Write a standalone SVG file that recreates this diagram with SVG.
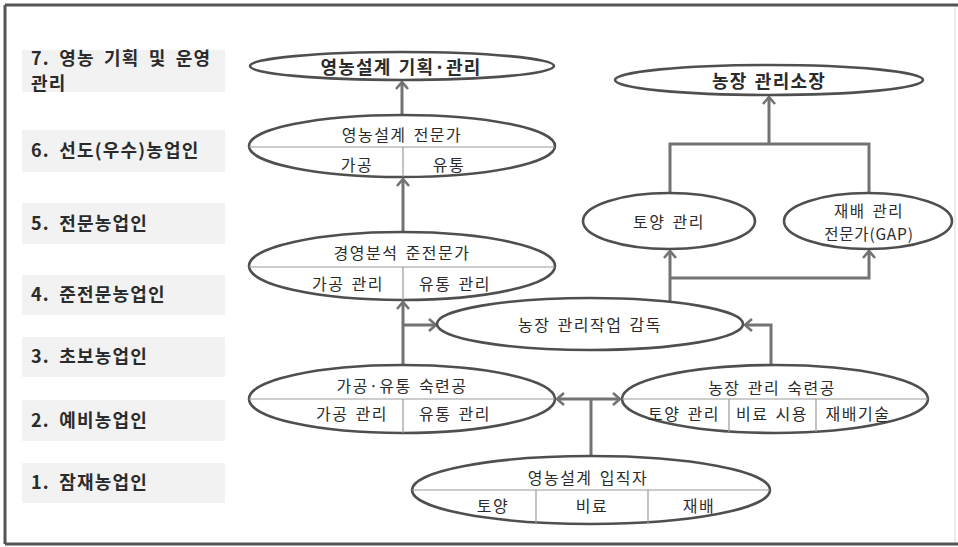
<svg xmlns="http://www.w3.org/2000/svg" width="958" height="547" viewBox="0 0 958 547">
<style>
text{font-family:"Noto Sans CJK KR","Noto Sans",sans-serif;fill:#2b2b2b;}
.lbl{font-size:18px;font-weight:bold;letter-spacing:1.2px;word-spacing:4px;}
.lbox{fill:#f2f2f2;}
.el{fill:#fff;stroke:#4f4f4f;stroke-width:2.6;}
.div{stroke:#9a9a9a;stroke-width:1.2;fill:none;}
.t{font-size:16px;text-anchor:middle;dominant-baseline:central;letter-spacing:1.5px;word-spacing:2px;}
.tb{font-size:18px;font-weight:bold;text-anchor:middle;dominant-baseline:central;letter-spacing:1.2px;word-spacing:2px;}
.c{stroke:#737373;stroke-width:3;fill:none;}
</style>
<defs>
<marker id="ah" markerUnits="userSpaceOnUse" markerWidth="20" markerHeight="20" refX="0" refY="0" viewBox="-10 -10 20 20" orient="auto-start-reverse">
<path d="M-7,-6 L0,0 L-7,6" fill="none" stroke="#737373" stroke-width="2.6" stroke-linejoin="miter"/>
</marker>
</defs>
<rect x="0" y="0" width="958" height="547" fill="#fff"/>
<g id="frame">
<line x1="5" y1="5" x2="958" y2="5" stroke="#555" stroke-width="3"/>
<line x1="5" y1="5" x2="5" y2="544" stroke="#555" stroke-width="3"/>
<line x1="5" y1="544" x2="958" y2="544" stroke="#555" stroke-width="3"/>
<line x1="955" y1="7" x2="955" y2="542" stroke="#d8d8d8" stroke-width="1"/>
</g>
<g id="level7"><rect class="lbox" x="22" y="50" width="203" height="42"/><text class="lbl" x="31" y="65">7. 영농 기획 및 운영</text><text class="lbl" x="31" y="90">관리</text></g>
<g id="level6"><rect class="lbox" x="22" y="130" width="203" height="42"/><text class="lbl" x="31" y="157">6. 선도(우수)농업인</text></g>
<g id="level5"><rect class="lbox" x="22" y="203" width="203" height="41"/><text class="lbl" x="31" y="230">5. 전문농업인</text></g>
<g id="level4"><rect class="lbox" x="22" y="275" width="203" height="40"/><text class="lbl" x="31" y="301">4. 준전문농업인</text></g>
<g id="level3"><rect class="lbox" x="22" y="337" width="203" height="40"/><text class="lbl" x="31" y="363">3. 초보농업인</text></g>
<g id="level2"><rect class="lbox" x="22" y="400" width="203" height="41"/><text class="lbl" x="31" y="427">2. 예비농업인</text></g>
<g id="level1"><rect class="lbox" x="22" y="463" width="203" height="40"/><text class="lbl" x="31" y="489">1. 잠재농업인</text></g>
<g id="connectors">
<line class="c" x1="402" y1="114" x2="402" y2="82" marker-end="url(#ah)"/>
<line class="c" x1="403" y1="231" x2="403" y2="179" marker-end="url(#ah)"/>
<line class="c" x1="403" y1="364" x2="403" y2="302" marker-end="url(#ah)"/>
<line class="c" x1="403" y1="325" x2="436" y2="325" marker-end="url(#ah)"/>
<polyline class="c" points="771,364 771,325 745,325" marker-end="url(#ah)"/>
<line class="c" x1="670" y1="302" x2="670" y2="251" marker-end="url(#ah)"/>
<polyline class="c" points="670,278 869,278 869,251" marker-end="url(#ah)"/>
<polyline class="c" points="670,193 670,144 869,144 869,193"/>
<line class="c" x1="769" y1="144" x2="769" y2="97" marker-end="url(#ah)"/>
<line class="c" x1="557" y1="399" x2="620" y2="399" marker-start="url(#ah)" marker-end="url(#ah)"/>
<line class="c" x1="591" y1="399" x2="591" y2="457"/>
</g>
<g id="n-plan">
<ellipse class="el" cx="402" cy="66" rx="152" ry="14"/>
<text class="tb" x="401" y="66">영농설계 기획·관리</text>
</g>
<g id="n-expert">
<ellipse class="el" cx="402" cy="146" rx="153" ry="31"/>
<line class="div" x1="249" y1="147" x2="555" y2="147"/>
<line class="div" x1="403" y1="147" x2="403" y2="177"/>
<text class="t" x="402" y="134">영농설계 전문가</text>
<text class="t" x="357" y="164">가공</text>
<text class="t" x="449" y="164">유통</text>
</g>
<g id="n-semi">
<ellipse class="el" cx="402" cy="266" rx="153" ry="34"/>
<line class="div" x1="249" y1="267" x2="555" y2="267"/>
<line class="div" x1="403" y1="267" x2="403" y2="300"/>
<text class="t" x="402" y="252">경영분석 준전문가</text>
<text class="t" x="348" y="283">가공 관리</text>
<text class="t" x="455" y="283">유통 관리</text>
</g>
<g id="n-supervise">
<ellipse class="el" cx="590" cy="324" rx="153" ry="26"/>
<text class="t" x="590" y="324">농장 관리작업 감독</text>
</g>
<g id="n-soil">
<ellipse class="el" cx="669" cy="221" rx="86" ry="28"/>
<text class="t" x="669" y="221">토양 관리</text>
</g>
<g id="n-gap">
<ellipse class="el" cx="868" cy="221" rx="84" ry="28"/>
<text class="t" x="869" y="210" style="font-size:15.5px">재배 관리</text>
<text class="t" x="869" y="233" style="font-size:15.5px;letter-spacing:0.8px">전문가(GAP)</text>
</g>
<g id="n-director">
<ellipse class="el" cx="769" cy="80" rx="154" ry="15"/>
<text class="tb" x="769" y="80">농장 관리소장</text>
</g>
<g id="n-skilled-proc">
<ellipse class="el" cx="402" cy="399" rx="153" ry="34"/>
<line class="div" x1="249" y1="399" x2="555" y2="399"/>
<line class="div" x1="403" y1="399" x2="403" y2="433"/>
<text class="t" x="402" y="385">가공·유통 숙련공</text>
<text class="t" x="352" y="413">가공 관리</text>
<text class="t" x="455" y="413">유통 관리</text>
</g>
<g id="n-skilled-farm">
<ellipse class="el" cx="775" cy="399" rx="153" ry="34"/>
<line class="div" x1="622" y1="399" x2="928" y2="399"/>
<line class="div" x1="729" y1="399" x2="729" y2="432"/>
<line class="div" x1="816" y1="399" x2="816" y2="432"/>
<text class="t" x="772" y="387">농장 관리 숙련공</text>
<text class="t" x="684" y="413">토양 관리</text>
<text class="t" x="772" y="413">비료 시용</text>
<text class="t" x="858" y="413">재배기술</text>
</g>
<g id="n-entry">
<ellipse class="el" cx="591" cy="490" rx="179" ry="34"/>
<line class="div" x1="412" y1="490" x2="770" y2="490"/>
<line class="div" x1="536" y1="490" x2="536" y2="523"/>
<line class="div" x1="648" y1="490" x2="648" y2="523"/>
<text class="t" x="588" y="477">영농설계 입직자</text>
<text class="t" x="493" y="505">토양</text>
<text class="t" x="592" y="505">비료</text>
<text class="t" x="699" y="505">재배</text>
</g>
</svg>
